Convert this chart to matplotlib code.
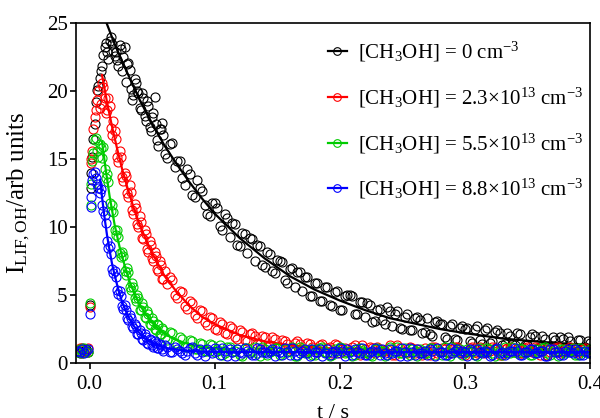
import matplotlib
matplotlib.use("Agg")
import matplotlib.pyplot as plt
from matplotlib.lines import Line2D
from matplotlib.ticker import FormatStrFormatter

plt.rcParams['font.family'] = ['Liberation Serif', 'DejaVu Serif']
plt.rcParams['mathtext.fontset'] = 'custom'
plt.rcParams['mathtext.rm'] = 'Liberation Serif'
plt.rcParams['mathtext.it'] = 'Liberation Serif:italic'
plt.rcParams['mathtext.bf'] = 'Liberation Serif:bold'

# sample times (s), shared by all four traces
# (markers only, so the order of the blocks does not matter)
t_pts = [
    -0.009, -0.0075, -0.006, -0.0045, -0.003, -0.0015, 0.0, 0.0008,
    0.002, 0.004, 0.006, 0.008, 0.010, 0.012, 0.014, 0.016, 0.018, 0.020,
    0.022, 0.024, 0.026, 0.028, 0.030, 0.032, 0.034, 0.036, 0.038, 0.040,
    0.042, 0.044, 0.046, 0.048, 0.050, 0.052, 0.054, 0.056, 0.058, 0.060,
    0.064, 0.068, 0.072, 0.076, 0.080, 0.084, 0.088, 0.092, 0.096, 0.100,
    0.104, 0.108, 0.112, 0.116, 0.120, 0.124, 0.128, 0.132, 0.136, 0.140,
    0.144, 0.148, 0.152, 0.156, 0.160, 0.164, 0.168, 0.172, 0.176, 0.180,
    0.184, 0.188, 0.192, 0.196, 0.200, 0.204, 0.208, 0.212, 0.216, 0.220,
    0.224, 0.228, 0.232, 0.236, 0.240, 0.244, 0.248, 0.252, 0.256, 0.260,
    0.264, 0.268, 0.272, 0.276, 0.280, 0.284, 0.288, 0.292, 0.296, 0.300,
    0.304, 0.308, 0.312, 0.316, 0.320, 0.324, 0.328, 0.332, 0.336, 0.340,
    0.344, 0.348, 0.352, 0.356, 0.360, 0.364, 0.368, 0.372, 0.376, 0.380,
    0.384, 0.388, 0.392, 0.396, 0.400,
    # odd milliseconds
    0.001, 0.003, 0.005, 0.007, 0.009, 0.011, 0.013, 0.015, 0.017, 0.019,
    0.021, 0.023, 0.025, 0.027, 0.029, 0.031, 0.033, 0.035, 0.037, 0.039,
    0.041, 0.043, 0.045, 0.047, 0.049, 0.051, 0.053, 0.055, 0.057, 0.059,
    # in-between samples of the tail
    0.062, 0.066, 0.070, 0.074, 0.078, 0.082, 0.086, 0.090, 0.094, 0.098,
    0.102, 0.106, 0.110, 0.114, 0.118, 0.122, 0.126, 0.130, 0.134, 0.138,
    0.142, 0.146, 0.150, 0.154, 0.158, 0.162, 0.166, 0.170, 0.174, 0.178,
    0.182, 0.186, 0.190, 0.194, 0.198, 0.202, 0.206, 0.210, 0.214, 0.218,
    0.222, 0.226, 0.230, 0.234, 0.238, 0.242, 0.246, 0.250, 0.254, 0.258,
    0.262, 0.266, 0.270, 0.274, 0.278, 0.282, 0.286, 0.290, 0.294, 0.298,
    0.302, 0.306, 0.310, 0.314, 0.318, 0.322, 0.326, 0.330, 0.334, 0.338,
    0.342, 0.346, 0.350, 0.354, 0.358, 0.362, 0.366, 0.370, 0.374, 0.378,
    0.382, 0.386, 0.390, 0.394, 0.398,
]

# LIF signal, [CH3OH] = 0
y_0 = [
    0.9, 0.7, 1.1, 0.8, 1.0, 0.8, 4.3, 12.9,
    15.2, 17.6, 20.1, 21.0, 21.9, 23.3, 22.9, 23.7, 23.5, 22.6,
    22.3, 23.4, 21.5, 23.3, 22.0, 21.6, 19.4, 20.9, 20.0, 18.8,
    19.9, 18.2, 19.3, 17.4, 18.1, 19.6, 16.4, 17.2, 17.7, 15.4,
    16.1, 14.4, 14.9, 13.1, 13.9, 12.2, 12.9, 11.6, 10.8, 11.8,
    10.1, 11.0, 9.3, 10.2, 8.6, 9.5, 9.2, 7.5, 8.6, 7.1,
    8.0, 6.6, 7.5, 6.1, 6.9, 5.6, 6.7, 6.3, 4.9, 5.9,
    4.6, 5.6, 4.3, 5.2, 3.9, 4.9, 5.0, 3.6, 4.5, 3.4,
    4.3, 3.1, 4.0, 2.9, 3.8, 3.6, 2.6, 3.4, 2.4, 3.3,
    3.2, 2.3, 2.1, 3.0, 2.9, 1.9, 2.7, 1.8, 2.6, 2.5,
    1.6, 2.5, 1.7, 2.4, 1.5, 2.3, 2.2, 1.4, 2.0, 1.3,
    2.1, 1.3, 1.9, 2.0, 1.2, 1.8, 1.1, 1.7, 1.9, 1.1,
    1.6, 1.0, 1.7, 1.2, 1.5,
    14.0, 16.5, 19.2, 20.4, 21.5, 22.7, 23.6, 22.4, 24.0, 23.0,
    22.9, 21.9, 23.1, 22.5, 20.7, 22.1, 20.2, 19.7, 20.6, 19.9,
    18.6, 19.5, 17.8, 18.9, 17.1, 18.4, 17.6, 16.0, 17.2, 16.8,
    15.1, 16.2, 14.9, 13.6, 14.3, 12.4, 13.5, 12.7, 11.0, 11.8,
    11.4, 9.8, 10.7, 10.3, 8.7, 9.6, 8.1, 9.1, 8.7, 7.2,
    8.2, 6.8, 7.6, 7.4, 5.9, 7.0, 6.7, 5.3, 6.3, 4.9,
    5.9, 4.6, 5.6, 4.2, 5.3, 3.9, 5.0, 4.9, 3.6, 4.5,
    4.4, 3.0, 3.9, 3.2, 4.1, 2.7, 3.8, 2.5, 3.6, 2.4,
    3.4, 2.2, 3.3, 2.0, 3.1, 2.9, 1.8, 2.9, 1.7, 2.7,
    2.6, 1.5, 2.7, 1.4, 2.6, 1.6, 2.4, 1.3, 2.2, 1.4,
    2.2, 1.1, 1.3, 2.1, 1.0, 2.0, 1.2, 1.9, 0.9, 1.8,
    1.9, 0.9, 1.7, 1.0, 1.6,
]

# [CH3OH] = 2.3e13
y_23 = [
    0.9, 1.1, 0.7, 1.0, 0.8, 1.1, 4.1, 14.7,
    15.6, 18.1, 19.4, 18.8, 20.6, 19.5, 18.6, 18.9, 16.8, 17.1,
    15.2, 15.6, 13.7, 14.0, 12.5, 13.1, 11.3, 11.7, 10.2, 10.8,
    9.2, 9.8, 8.4, 9.0, 7.7, 8.2, 6.9, 7.5, 6.2, 6.8,
    6.3, 5.0, 5.3, 4.2, 4.6, 3.5, 3.9, 3.0, 3.4, 2.5,
    3.0, 2.2, 2.7, 1.9, 2.4, 1.7, 2.1, 2.0, 1.4, 1.9,
    1.3, 1.8, 1.2, 1.6, 1.0, 1.5, 1.4, 0.9, 1.4, 1.0,
    1.3, 0.8, 1.2, 1.4, 0.7, 1.1, 0.9, 1.3, 0.6, 1.0,
    1.2, 0.7, 1.0, 0.9, 1.3, 0.6, 1.1, 0.8, 1.2, 0.7,
    0.9, 1.1, 0.6, 1.2, 0.8, 1.0, 0.7, 1.2, 0.9, 0.6,
    1.1, 0.8, 1.2, 0.7, 0.9, 1.1, 0.6, 1.0, 1.2, 0.8,
    0.7, 1.1, 0.9, 1.2, 0.6, 1.0, 0.8, 1.1, 0.7, 1.0,
    1.2, 0.8, 0.9, 1.1, 0.7,
    15.0, 17.2, 18.6, 20.0, 19.1, 20.3, 18.4, 19.5, 17.3, 17.8,
    16.5, 14.8, 15.2, 13.4, 13.8, 12.2, 12.6, 11.0, 11.4, 10.0,
    10.4, 9.1, 9.5, 8.2, 8.7, 7.5, 7.9, 6.8, 7.2, 6.2,
    5.8, 6.1, 4.8, 5.2, 4.0, 4.4, 3.3, 3.8, 2.8, 3.3,
    2.4, 2.9, 2.1, 2.6, 1.8, 2.3, 1.6, 2.2, 1.4, 2.0,
    1.2, 1.9, 1.1, 1.7, 1.4, 1.0, 1.6, 0.9, 1.5, 1.2,
    0.8, 1.4, 1.1, 0.7, 1.3, 1.0, 0.8, 1.2, 0.9, 1.3,
    0.7, 1.1, 1.2, 0.8, 1.0, 0.6, 1.3, 0.9, 0.7, 1.1,
    1.0, 0.6, 0.9, 1.2, 0.7, 1.1, 0.8, 1.0, 1.2, 0.7,
    0.9, 1.2, 0.7, 1.0, 0.8, 1.2, 0.9, 0.6, 1.1, 0.8,
    1.0, 0.7, 1.2, 0.8, 1.1, 0.9, 0.6, 1.0, 1.2, 0.8,
    0.9, 1.1, 0.7, 1.0, 0.8,
]

# [CH3OH] = 5.5e13
y_55 = [
    0.8, 1.0, 0.7, 1.1, 0.9, 0.8, 4.4, 11.6,
    14.9, 16.4, 15.6, 16.1, 15.1, 14.3, 13.9, 11.8, 11.6, 9.8,
    9.8, 8.1, 8.2, 6.8, 7.0, 5.6, 5.9, 4.8, 5.0, 3.9,
    4.4, 3.4, 3.8, 2.9, 3.3, 2.5, 2.9, 2.1, 2.6, 1.9,
    2.3, 1.5, 1.9, 1.2, 1.7, 1.0, 1.5, 0.9, 1.4, 0.8,
    1.3, 0.7, 1.2, 0.9, 0.6, 1.1, 0.8, 1.2, 0.5, 1.0,
    0.8, 1.1, 0.6, 1.0, 0.9, 0.5, 1.2, 0.7, 1.0, 0.6,
    1.1, 0.8, 0.5, 1.0, 1.2, 0.7, 0.9, 0.6, 1.1, 0.8,
    0.6, 1.0, 0.9, 0.5, 1.2, 0.8, 0.7, 1.1, 0.6, 0.9,
    1.0, 0.7, 1.1, 0.6, 0.9, 1.2, 0.5, 0.8, 1.0, 0.7,
    0.9, 0.6, 1.1, 0.8, 1.0, 0.5, 0.9, 1.2, 0.7, 0.8,
    1.1, 0.7, 0.6, 1.0, 0.9, 1.2, 0.6, 0.8, 1.0, 0.7,
    0.9, 0.6, 1.1, 0.8, 1.0,
    13.2, 15.5, 16.6, 15.2, 15.8, 15.9, 13.6, 13.3, 11.2, 11.1,
    9.4, 9.3, 7.8, 7.9, 6.5, 6.7, 5.4, 5.6, 4.6, 4.8,
    3.9, 4.1, 3.3, 3.6, 2.8, 3.1, 2.4, 2.8, 2.1, 2.4,
    1.7, 2.2, 1.4, 1.8, 1.2, 1.6, 1.0, 1.4, 0.9, 1.3,
    1.0, 0.6, 1.2, 0.8, 1.0, 0.5, 1.1, 0.9, 0.7, 1.2,
    0.6, 0.9, 1.1, 0.7, 0.8, 1.2, 0.5, 1.0, 0.8, 0.6,
    1.0, 1.2, 0.7, 0.6, 0.9, 1.1, 0.8, 0.5, 1.0, 0.9,
    0.7, 0.5, 1.1, 0.9, 0.6, 1.0, 1.2, 0.7, 0.8, 1.0,
    0.5, 0.9, 0.7, 1.1, 1.0, 0.6, 0.8, 1.2, 0.9, 0.6,
    1.0, 0.8, 0.5, 0.9, 1.1, 0.7, 1.0, 0.6, 0.8, 1.2,
    0.7, 1.0, 0.9, 0.6, 0.8, 1.1, 0.7, 0.9, 0.5, 1.0,
    0.8, 1.1, 0.6, 0.9, 0.7,
]

# [CH3OH] = 8.8e13
y_88 = [
    0.9, 0.8, 1.0, 0.7, 0.9, 1.0, 3.6, 11.5,
    13.5, 14.1, 13.2, 12.5, 11.6, 10.9, 9.0, 8.6, 6.9, 6.8,
    5.4, 5.3, 4.2, 4.3, 3.3, 3.5, 2.7, 2.9, 2.1, 2.4,
    1.8, 2.1, 1.5, 1.8, 1.3, 1.6, 1.1, 1.4, 1.0, 1.3,
    0.8, 1.2, 0.9, 0.6, 1.1, 0.7, 1.0, 0.5, 0.9, 1.1,
    0.6, 0.9, 1.0, 0.5, 0.8, 1.1, 0.7, 0.6, 1.0, 0.8,
    0.9, 0.5, 0.8, 1.1, 0.6, 0.9, 0.7, 1.0, 0.5, 0.8,
    1.0, 0.7, 0.6, 0.9, 1.1, 0.5, 0.8, 1.0, 0.7, 0.6,
    0.8, 1.1, 0.6, 0.7, 1.0, 0.9, 0.5, 0.8, 1.1, 0.6,
    0.7, 0.9, 1.0, 0.5, 0.8, 0.6, 1.1, 0.9, 0.7, 0.8,
    1.0, 0.6, 0.8, 0.9, 0.5, 1.0, 0.7, 0.6, 0.9, 1.1,
    0.6, 0.8, 1.0, 0.7, 0.9, 0.5, 1.0, 0.8, 0.6, 0.9,
    0.8, 1.0, 0.6, 0.9, 0.7,
    12.2, 13.9, 13.6, 12.9, 12.8, 11.2, 10.3, 8.5, 8.0, 6.6,
    6.3, 5.1, 4.9, 4.0, 3.9, 3.2, 3.3, 2.6, 2.7, 2.1,
    2.2, 1.7, 1.9, 1.4, 1.7, 1.2, 1.5, 1.1, 1.3, 0.9,
    1.2, 0.8, 1.0, 0.7, 0.9, 1.2, 0.6, 0.8, 1.0, 0.7,
    0.9, 1.1, 0.5, 0.8, 1.0, 0.7, 0.9, 0.6, 1.1, 0.8,
    0.7, 1.0, 0.9, 0.6, 0.8, 1.1, 0.6, 0.9, 0.7, 1.0,
    0.8, 0.5, 1.0, 0.8, 0.7, 0.9, 1.0, 0.6, 0.8, 1.1,
    0.6, 0.9, 0.8, 1.0, 0.6, 0.7, 0.9, 1.1, 0.5, 0.8,
    1.0, 0.7, 0.6, 0.9, 1.1, 0.8, 0.6, 0.7, 1.0, 0.9,
    0.5, 0.9, 1.0, 0.7, 0.8, 0.6, 1.1, 0.8, 0.7, 0.9,
    0.9, 0.6, 0.8, 1.0, 0.7, 0.9, 0.5, 1.0, 0.8, 0.6,
    1.0, 0.7, 0.9, 0.6, 0.8,
]

# single-exponential fits
fit_t_0 = [0.010, 0.020, 0.030, 0.040, 0.050, 0.060, 0.070, 0.080, 0.090, 0.100,
           0.120, 0.140, 0.160, 0.180, 0.200, 0.220, 0.240, 0.260, 0.280, 0.300,
           0.330, 0.360, 0.400]
fit_y_0 = [25.9, 23.5, 21.4, 19.4, 17.6, 16.0, 14.6, 13.3, 12.1, 11.0,
           9.2, 7.7, 6.4, 5.4, 4.6, 3.9, 3.3, 2.9, 2.5, 2.2,
           1.8, 1.56, 1.31]

fit_t_23 = [0.010, 0.014, 0.018, 0.022, 0.026, 0.030, 0.035, 0.040, 0.045, 0.050,
            0.060, 0.070, 0.080, 0.090, 0.100, 0.120, 0.140, 0.160, 0.190, 0.235]
fit_y_23 = [21.2, 19.2, 17.4, 15.8, 14.3, 13.0, 11.5, 10.2, 9.1, 8.1,
            6.4, 5.2, 4.2, 3.4, 2.86, 2.06, 1.59, 1.31, 1.09, 0.96]

fit_t_55 = [0.010, 0.013, 0.016, 0.020, 0.024, 0.028, 0.032, 0.036, 0.040, 0.045,
            0.050, 0.055, 0.060, 0.070, 0.080, 0.090, 0.100, 0.116]
fit_y_55 = [16.3, 14.2, 12.3, 10.2, 8.55, 7.2, 6.0, 5.1, 4.3, 3.6,
            3.0, 2.5, 2.15, 1.67, 1.37, 1.18, 1.07, 0.98]

fit_t_88 = [0.0085, 0.010, 0.012, 0.014, 0.016, 0.018, 0.020, 0.023, 0.026, 0.030,
            0.034, 0.038, 0.042, 0.046, 0.050, 0.056, 0.064, 0.075, 0.090, 0.120,
            0.200, 0.400]
fit_y_88 = [13.5, 12.2, 10.7, 9.4, 8.3, 7.3, 6.5, 5.4, 4.5, 3.6,
            2.9, 2.4, 2.0, 1.7, 1.5, 1.25, 1.05, 0.92, 0.84, 0.81,
            0.80, 0.80]

conc = ['0', '2.3×10$^{13}$', '5.5×10$^{13}$', '8.8×10$^{13}$']
colors = ['black', '#ff0000', '#00cc00', '#0000ff']

series = [
    (y_0, fit_t_0, fit_y_0),
    (y_23, fit_t_23, fit_y_23),
    (y_55, fit_t_55, fit_y_55),
    (y_88, fit_t_88, fit_y_88),
]

fig = plt.figure(figsize=(6.0, 4.18), dpi=100)
ax = fig.add_axes([0.1267, 0.1316, 0.8567, 0.8122])

for (ys, ft, fy), c in zip(series, colors):
    ax.plot(t_pts, ys, 'o', ms=6.5, mfc='none', mec=c, mew=0.8, ls='none')
    ax.plot(ft, fy, '-', color=c, lw=1.6)

ax.set_xlim(-0.0108, 0.4)
ax.set_ylim(0, 25)
ax.set_xticks([0.0, 0.1, 0.2, 0.3, 0.4])
ax.set_yticks([0, 5, 10, 15, 20, 25])
ax.xaxis.set_major_formatter(FormatStrFormatter('%.1f'))

for s in ax.spines.values():
    s.set_linewidth(1.2)
ax.tick_params(direction='out', length=4.5, width=1.2, labelsize=15,
               top=False, right=False)
ax.tick_params(axis='y', pad=1.5)
ax.tick_params(axis='x', pad=4)

ax.set_xlabel('t / s', fontsize=16)
ax.xaxis.set_label_coords(0.5, -0.12)
ax.set_ylabel(r'I$_{\mathrm{LIF,OH}}$/arb units', fontsize=18)
ax.yaxis.set_label_coords(-0.085, 0.5)

handles = [Line2D([], [], color=c, lw=1.6, marker='o', ms=5.5, mfc='none',
                  mec=c, mew=0.8) for c in colors]
labels = ['[CH$_3$OH] = %s cm$^{-3}$' % v for v in conc]
ax.legend(handles, labels, loc='upper left', bbox_to_anchor=(0.49, 0.951),
          frameon=False, fontsize=15, handlelength=0.9, handletextpad=0.55,
          labelspacing=1.03, borderaxespad=0, borderpad=0)

fig.savefig('out.png', dpi=100)
